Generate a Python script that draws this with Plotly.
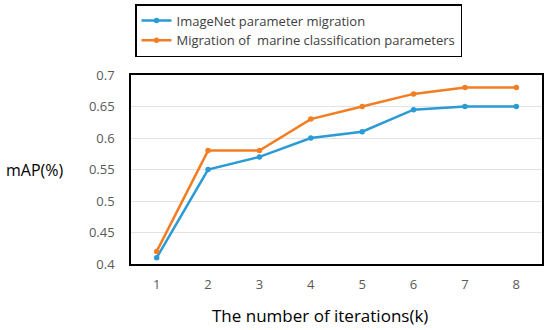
import plotly.graph_objects as go

iterations = [1, 2, 3, 4, 5, 6, 7, 8]
imagenet = [0.41, 0.55, 0.57, 0.60, 0.61, 0.645, 0.65, 0.65]
marine = [0.42, 0.58, 0.58, 0.63, 0.65, 0.67, 0.68, 0.68]
y_ticks = [0.4, 0.45, 0.5, 0.55, 0.6, 0.65, 0.7]
y_tick_text = ["0.4", "0.45", "0.5", "0.55", "0.6", "0.65", "0.7"]

FONT = "Open Sans"
BLUE = "#2A9BD4"
ORANGE = "#F37D22"

fig = go.Figure()
fig.add_trace(go.Scatter(x=iterations, y=imagenet, mode="lines+markers",
                         name="ImageNet parameter migration", legendgroup="a",
                         line=dict(color=BLUE, width=2.5),
                         marker=dict(color=BLUE, size=5.5)))
fig.add_trace(go.Scatter(x=iterations, y=marine, mode="lines+markers",
                         name="Migration of  marine classification parameters",
                         legendgroup="b",
                         line=dict(color=ORANGE, width=2.5),
                         marker=dict(color=ORANGE, size=5.5)))

fig.update_layout(
    width=550, height=330,
    margin=dict(l=131, r=8, t=75, b=66, autoexpand=False),
    paper_bgcolor="white", plot_bgcolor="white",
    font=dict(family=FONT, color="#595959", size=13),
    showlegend=True,
    legend=dict(xref="container", yref="container",
                x=135 / 550, y=1 - 4 / 330, xanchor="left", yanchor="top",
                bordercolor="black", borderwidth=1.5, bgcolor="white",
                font=dict(family=FONT, size=13, color="#404040"),
                tracegroupgap=0, itemwidth=30),
    xaxis=dict(range=[0.5, 8.5], tickmode="array", tickvals=iterations,
               showgrid=False, zeroline=False, showline=True,
               linecolor="black", linewidth=1.5, mirror=True,
               ticks="", ticklabelstandoff=8, automargin=False,
               tickfont=dict(size=13, color="#595959")),
    yaxis=dict(range=[0.4, 0.7], tickmode="array", tickvals=y_ticks,
               ticktext=y_tick_text, showgrid=True, gridcolor="#E3E3E3",
               gridwidth=1, zeroline=False, showline=True,
               linecolor="black", linewidth=1.5, mirror=True, ticks="",
               ticklabelstandoff=12, automargin=False,
               tickfont=dict(size=13, color="#595959")),
    annotations=[
        dict(text="mAP(%)", xref="paper", yref="paper",
             x=-0.31, y=0.497, xanchor="left", yanchor="middle",
             showarrow=False,
             font=dict(family=FONT, size=16, color="black")),
        dict(text="The number of iterations(k)", xref="paper", yref="paper",
             x=0.46, y=-0.275, xanchor="center", yanchor="middle",
             showarrow=False,
             font=dict(family=FONT, size=17, color="black")),
    ],
)

fig.write_html("out.html", config={"responsive": False, "displayModeBar": False},
               post_script="document.body.style.margin='0';document.body.style.overflow='hidden';")
